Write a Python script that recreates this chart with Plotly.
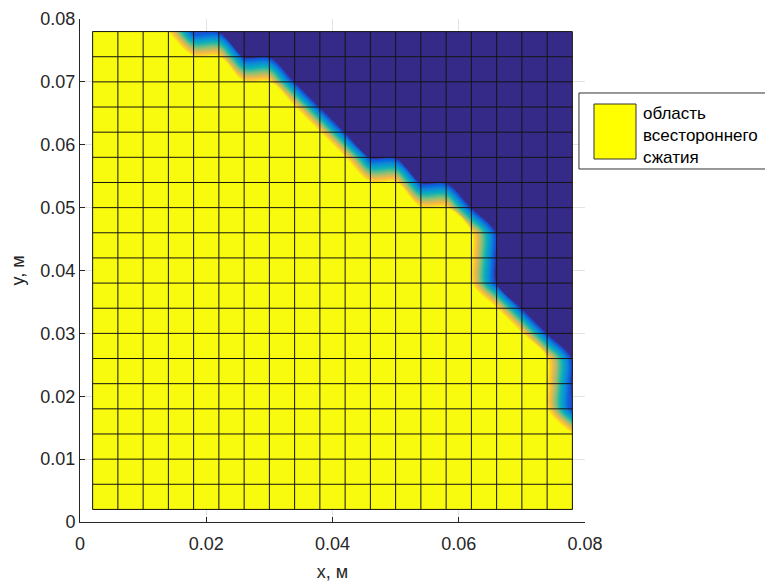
import plotly.graph_objects as go

# grid node coordinates (m)
x_nodes = [0.002, 0.006, 0.010, 0.014, 0.018, 0.022, 0.026, 0.030, 0.034, 0.038,
           0.042, 0.046, 0.050, 0.054, 0.058, 0.062, 0.066, 0.070, 0.074, 0.078]
y_nodes = [0.002, 0.006, 0.010, 0.014, 0.018, 0.022, 0.026, 0.030, 0.034, 0.038,
           0.042, 0.046, 0.050, 0.054, 0.058, 0.062, 0.066, 0.070, 0.074, 0.078]

# indicator of all-round compression at grid nodes (rows: y from bottom to top)
z_values = [
    [1, 1, 1, 1, 1, 1, 1, 1, 1, 1, 1, 1, 1, 1, 1, 1, 1, 1, 1, 1],
    [1, 1, 1, 1, 1, 1, 1, 1, 1, 1, 1, 1, 1, 1, 1, 1, 1, 1, 1, 1],
    [1, 1, 1, 1, 1, 1, 1, 1, 1, 1, 1, 1, 1, 1, 1, 1, 1, 1, 1, 1],
    [1, 1, 1, 1, 1, 1, 1, 1, 1, 1, 1, 1, 1, 1, 1, 1, 1, 1, 1, 1],
    [1, 1, 1, 1, 1, 1, 1, 1, 1, 1, 1, 1, 1, 1, 1, 1, 1, 1, 1, 0],
    [1, 1, 1, 1, 1, 1, 1, 1, 1, 1, 1, 1, 1, 1, 1, 1, 1, 1, 1, 0],
    [1, 1, 1, 1, 1, 1, 1, 1, 1, 1, 1, 1, 1, 1, 1, 1, 1, 1, 1, 0],
    [1, 1, 1, 1, 1, 1, 1, 1, 1, 1, 1, 1, 1, 1, 1, 1, 1, 1, 0, 0],
    [1, 1, 1, 1, 1, 1, 1, 1, 1, 1, 1, 1, 1, 1, 1, 1, 1, 0, 0, 0],
    [1, 1, 1, 1, 1, 1, 1, 1, 1, 1, 1, 1, 1, 1, 1, 1, 0, 0, 0, 0],
    [1, 1, 1, 1, 1, 1, 1, 1, 1, 1, 1, 1, 1, 1, 1, 1, 0, 0, 0, 0],
    [1, 1, 1, 1, 1, 1, 1, 1, 1, 1, 1, 1, 1, 1, 1, 1, 0, 0, 0, 0],
    [1, 1, 1, 1, 1, 1, 1, 1, 1, 1, 1, 1, 1, 1, 1, 0, 0, 0, 0, 0],
    [1, 1, 1, 1, 1, 1, 1, 1, 1, 1, 1, 1, 1, 0, 0, 0, 0, 0, 0, 0],
    [1, 1, 1, 1, 1, 1, 1, 1, 1, 1, 1, 0, 0, 0, 0, 0, 0, 0, 0, 0],
    [1, 1, 1, 1, 1, 1, 1, 1, 1, 1, 0, 0, 0, 0, 0, 0, 0, 0, 0, 0],
    [1, 1, 1, 1, 1, 1, 1, 1, 1, 0, 0, 0, 0, 0, 0, 0, 0, 0, 0, 0],
    [1, 1, 1, 1, 1, 1, 1, 1, 0, 0, 0, 0, 0, 0, 0, 0, 0, 0, 0, 0],
    [1, 1, 1, 1, 1, 1, 0, 0, 0, 0, 0, 0, 0, 0, 0, 0, 0, 0, 0, 0],
    [1, 1, 1, 1, 0, 0, 0, 0, 0, 0, 0, 0, 0, 0, 0, 0, 0, 0, 0, 0],
]

x_ticks = [0, 0.02, 0.04, 0.06, 0.08]
x_tick_labels = ["0", "0.02", "0.04", "0.06", "0.08"]
y_ticks = [0, 0.01, 0.02, 0.03, 0.04, 0.05, 0.06, 0.07, 0.08]
y_tick_labels = ["0", "0.01", "0.02", "0.03", "0.04", "0.05", "0.06", "0.07", "0.08"]

legend_lines = ["область", "всестороннего", "сжатия"]
x_title = "x, м"
y_title = "y, м"

parula = [
    [0.000, "rgb(53,42,135)"],
    [0.095, "rgb(32,83,212)"],
    [0.143, "rgb(2,104,225)"],
    [0.238, "rgb(20,129,214)"],
    [0.333, "rgb(7,156,207)"],
    [0.429, "rgb(15,174,185)"],
    [0.524, "rgb(66,187,152)"],
    [0.619, "rgb(135,191,119)"],
    [0.714, "rgb(192,188,96)"],
    [0.810, "rgb(241,185,74)"],
    [0.857, "rgb(255,195,55)"],
    [0.905, "rgb(250,211,42)"],
    [0.952, "rgb(245,228,29)"],
    [1.000, "rgb(249,251,14)"],
]

FONT = "Liberation Sans, Arial, Helvetica, sans-serif"
AX = "#262626"

fig = go.Figure()

fig.add_trace(go.Contour(
    x=x_nodes, y=y_nodes, z=z_values,
    colorscale=parula, zmin=0, zmax=1,
    contours=dict(start=0.0125, end=0.9875, size=0.025,
                  coloring="fill", showlines=False),
    line=dict(width=0),
    showscale=False, hoverinfo="skip",
))

# mesh edges of the surface
gx, gy = [], []
for xv in x_nodes:
    gx += [xv, xv, None]
    gy += [y_nodes[0], y_nodes[-1], None]
for yv in y_nodes:
    gx += [x_nodes[0], x_nodes[-1], None]
    gy += [yv, yv, None]
fig.add_trace(go.Scatter(
    x=gx, y=gy, mode="lines",
    line=dict(color="#141414", width=1),
    hoverinfo="skip", showlegend=False,
))

axis_common = dict(
    showline=True, linecolor=AX, linewidth=1,
    ticks="inside", ticklen=5, tickcolor=AX, tickwidth=1,
    showgrid=True, gridcolor="#e3e3e3", gridwidth=1,
    zeroline=False, mirror=False, automargin=False,
    tickfont=dict(family=FONT, size=18, color=AX),
)

# the page body adds an 8px offset, so the figure is 8px smaller
fig.update_layout(
    width=765, height=574,
    margin=dict(l=72, r=188, t=11, b=60, autoexpand=False),
    paper_bgcolor="white", plot_bgcolor="white",
    showlegend=False,
    xaxis=dict(range=[0, 0.08], tickvals=x_ticks, ticktext=x_tick_labels,
               ticklabelstandoff=5,
               title=dict(text=x_title, standoff=12,
                          font=dict(family=FONT, size=18, color=AX)),
               **axis_common),
    yaxis=dict(range=[0, 0.08], tickvals=y_ticks, ticktext=y_tick_labels,
               title=dict(text=y_title, standoff=15,
                          font=dict(family=FONT, size=18, color=AX)),
               **axis_common),
)

# legend box (drawn as shapes + annotation in paper coordinates)
fig.add_shape(type="rect", xref="paper", yref="paper",
              x0=0.988, x1=1.368, y0=0.7018, y1=0.8529,
              fillcolor="white", line=dict(color="#333333", width=1))
fig.add_shape(type="rect", xref="paper", yref="paper",
              x0=1.0178, x1=1.101, y0=0.7217, y1=0.831,
              fillcolor="#ffff00", line=dict(color="#333333", width=1))
fig.add_annotation(xref="paper", yref="paper", x=1.111, y=0.768,
                   xanchor="left", yanchor="middle", align="left",
                   showarrow=False, text="<br>".join(legend_lines),
                   font=dict(family=FONT, size=17, color="#000000"))

fig.write_html("out.html")
